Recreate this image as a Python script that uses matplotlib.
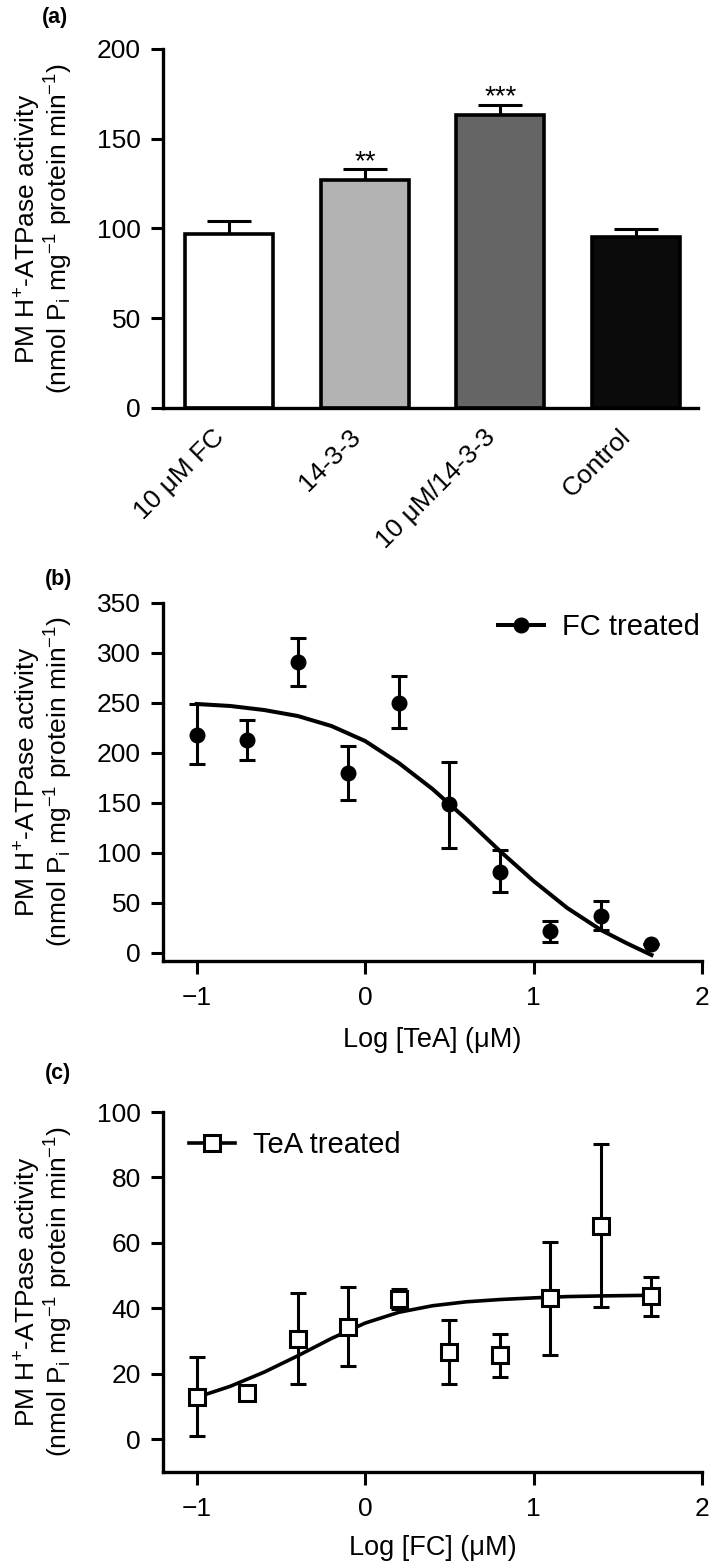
import matplotlib
matplotlib.use("Agg")
import matplotlib.pyplot as plt
from matplotlib.lines import Line2D
import numpy as np

plt.rcParams['font.family'] = ['Liberation Sans', 'DejaVu Sans']
plt.rcParams['mathtext.fontset'] = 'custom'
plt.rcParams['mathtext.rm'] = 'Liberation Sans'
plt.rcParams['mathtext.it'] = 'Liberation Sans:italic'
plt.rcParams['mathtext.bf'] = 'Liberation Sans:bold'

# (a) bar chart
bar_labels = ["10 μM FC", "14-3-3", "10 μM/14-3-3", "Control"]
bar_means = [97, 127, 163.5, 95]
bar_err = [7, 6, 5.5, 4.5]
bar_colors = ["white", "#b3b3b3", "#656565", "#0b0b0b"]
bar_stars = ["", "**", "***", ""]

# (b) FC treated, x = log [TeA]
log_conc = [-1.0, -0.7, -0.4, -0.1, 0.2, 0.5, 0.8, 1.1, 1.4, 1.7]
fc_mean = [218, 213, 291, 180, 250, 149, 81, 22, 37, 9]
fc_lo = [189, 193, 267, 153, 225, 105, 61, 11, 23, 9]
fc_hi = [249, 233, 315, 207, 277, 191, 103, 32, 52, 9]
fit_b_x = [-1.0, -0.8, -0.6, -0.4, -0.2, 0.0, 0.2, 0.4, 0.6, 0.8, 1.0, 1.2, 1.4, 1.55, 1.7]
fit_b_y = [249, 247, 243, 237, 227, 212, 190, 164, 134, 102, 72, 45, 23, 10, -2]

# (c) TeA treated, x = log [FC]
tea_mean = [13, 14, 30.6, 34.4, 42.8, 26.7, 25.7, 43.2, 65.3, 43.8]
tea_lo = [1, 14, 16.8, 22.3, 39.7, 17, 19.1, 25.8, 40.3, 37.7]
tea_hi = [25.2, 14, 44.6, 46.4, 45.8, 36.4, 32.1, 60.2, 90.1, 49.5]
fit_c_x = [-1.0, -0.8, -0.6, -0.4, -0.2, 0.0, 0.2, 0.4, 0.6, 0.8, 1.0, 1.2, 1.4, 1.7]
fit_c_y = [12.8, 16.2, 20.5, 25.5, 30.8, 35.5, 38.8, 40.8, 42.0, 42.7, 43.2, 43.6, 43.8, 44.0]

ylab = "PM H$^{+}$-ATPase activity\n(nmol P$_{\\mathrm{i}}$ mg$^{-1}$ protein min$^{-1}$)"
W, H = 709, 1563


def style(ax):
    for s in ["top", "right"]:
        ax.spines[s].set_visible(False)
    for s in ["left", "bottom"]:
        ax.spines[s].set_linewidth(2.4)
    ax.tick_params(width=2.2, length=9, labelsize=19, direction="out")
    ax.tick_params(axis="y", pad=7)
    ax.tick_params(axis="x", pad=9)


fig = plt.figure(figsize=(W / 100, H / 100), dpi=100)

# ---- panel (a)
ax1 = fig.add_axes([163 / W, 1 - 408 / H, 535 / W, 359 / H])
style(ax1)
xpos = np.arange(len(bar_means))
ax1.bar(xpos, bar_means, width=0.65, color=bar_colors, edgecolor="black", linewidth=2.6, zorder=2)
ax1.errorbar(xpos, bar_means, yerr=[np.zeros(len(bar_err)), bar_err], fmt="none",
             ecolor="black", elinewidth=2.2, capsize=16, capthick=2.2, zorder=1)
for i, s in enumerate(bar_stars):
    if s:
        ax1.text(xpos[i], bar_means[i] + bar_err[i], s, ha="center", va="baseline", fontsize=20)
ax1.set_ylim(0, 200)
ax1.set_yticks(np.arange(0, 201, 50))
ax1.set_xlim(-0.49, 3.46)
ax1.set_xticks(xpos)
ax1.set_xticklabels(bar_labels, rotation=45, ha="right")
ax1.tick_params(axis="x", length=0, pad=12)
ax1.set_ylabel(ylab, fontsize=19, linespacing=1.0)
ax1.yaxis.set_label_coords(-0.1645, 0.5)

# ---- panel (b)
ax2 = fig.add_axes([163 / W, 1 - 961 / H, 539 / W, 358 / H])
style(ax2)
fc_err = [np.array(fc_mean) - np.array(fc_lo), np.array(fc_hi) - np.array(fc_mean)]
ax2.errorbar(log_conc, fc_mean, yerr=fc_err, fmt="none", ecolor="black",
             elinewidth=2.2, capsize=5.8, capthick=2.2, zorder=2)
ax2.plot(fit_b_x, fit_b_y, color="black", lw=2.9, zorder=3)
ax2.plot(log_conc, fc_mean, "o", color="black", ms=10.5, ls="none", zorder=4)
ax2.set_ylim(-8, 350)
ax2.set_yticks(np.arange(0, 351, 50))
ax2.set_xlim(-1.2, 2.0)
ax2.set_xticks([-1, 0, 1, 2])
ax2.set_xlabel("Log [TeA] (μM)", fontsize=19.5, labelpad=12)
ax2.set_ylabel(ylab, fontsize=19, linespacing=1.0)
ax2.yaxis.set_label_coords(-0.163, 0.5)
h = Line2D([], [], color="black", lw=2.9, marker="o", ms=10.5)
ax2.legend([h], ["FC treated"], loc="center left", bbox_to_anchor=(0.6215, 0.933),
           frameon=False, fontsize=21, handlelength=1.58, handletextpad=0.62,
           borderpad=0, borderaxespad=0)

# ---- panel (c)
ax3 = fig.add_axes([163 / W, 1 - 1472 / H, 539 / W, 360 / H])
style(ax3)
tea_err = [np.array(tea_mean) - np.array(tea_lo), np.array(tea_hi) - np.array(tea_mean)]
ax3.errorbar(log_conc, tea_mean, yerr=tea_err, fmt="none", ecolor="black",
             elinewidth=2.2, capsize=5.8, capthick=2.2, zorder=2)
ax3.plot(fit_c_x, fit_c_y, color="black", lw=2.6, zorder=3)
ax3.plot(log_conc, tea_mean, "s", mfc="white", mec="black", mew=2.2, ms=11, ls="none", zorder=4)
ax3.set_ylim(-10, 100)
ax3.set_yticks(np.arange(0, 101, 20))
ax3.set_xlim(-1.2, 2.0)
ax3.set_xticks([-1, 0, 1, 2])
ax3.set_xlabel("Log [FC] (μM)", fontsize=19.5, labelpad=10)
ax3.set_ylabel(ylab, fontsize=19, linespacing=1.0)
ax3.yaxis.set_label_coords(-0.163, 0.5)
h = Line2D([], [], color="black", lw=2.6, marker="s", mfc="white", mec="black", mew=2.2, ms=11)
ax3.legend([h], ["TeA treated"], loc="center left", bbox_to_anchor=(0.048, 0.909),
           frameon=False, fontsize=21, handlelength=1.58, handletextpad=0.62,
           borderpad=0, borderaxespad=0)

# panel letters
fig.text(42 / W, 1 - 18 / H, "(a)", fontsize=15.5, fontweight="bold", ha="left", va="center")
fig.text(45 / W, 1 - 580 / H, "(b)", fontsize=15.5, fontweight="bold", ha="left", va="center")
fig.text(45 / W, 1 - 1073 / H, "(c)", fontsize=15.5, fontweight="bold", ha="left", va="center")

fig.savefig("out.png", dpi=100)
